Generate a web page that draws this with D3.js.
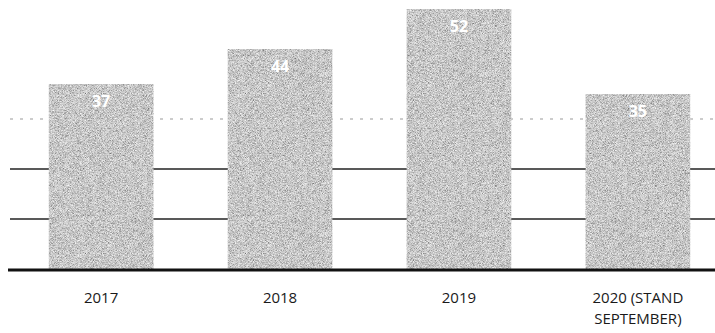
<!DOCTYPE html>
<html>
<head>
<meta charset="utf-8">
<script src="https://cdn.jsdelivr.net/npm/d3@7"></script>
<style>
  html, body { margin: 0; padding: 0; background: #fff; }
  svg { display: block; }
</style>
</head>
<body>
<svg id="chart" width="715" height="333"></svg>
<script>
// Yearly counts
const categories = ["2017", "2018", "2019", "2020 (STAND SEPTEMBER)"];
const categoryLines = [["2017"], ["2018"], ["2019"], ["2020 (STAND", "SEPTEMBER)"]];
const values = [37, 44, 52, 35];
const gridValues = [10, 20, 30];

const svg = d3.select("#chart");
const W = 715, H = 333;
const margin = { left: 13, right: -11, top: 9, bottom: 64 };

const x = d3.scaleBand()
  .domain(categories)
  .range([margin.left, W - margin.right])
  .paddingInner(0.415)
  .paddingOuter(0.2);

const y = d3.scaleLinear()
  .domain([0, 52])
  .range([H - margin.bottom, margin.top]);

// fine grainy gray fill for the bars
const defs = svg.append("defs");
const f = defs.append("filter").attr("id", "grain")
  .attr("x", 0).attr("y", 0).attr("width", 1).attr("height", 1);
f.append("feTurbulence").attr("type", "fractalNoise")
  .attr("baseFrequency", 1.6).attr("numOctaves", 1).attr("seed", 7).attr("result", "n");
f.append("feColorMatrix").attr("in", "n").attr("type", "matrix")
  .attr("values", "1 0 0 0 0  1 0 0 0 0  1 0 0 0 0  0 0 0 0 1").attr("result", "g");
const ct = f.append("feComponentTransfer").attr("in", "g").attr("result", "m");
["feFuncR", "feFuncG", "feFuncB"].forEach(k =>
  ct.append(k).attr("type", "linear").attr("slope", 1.2).attr("intercept", -0.03));
f.append("feComposite").attr("in", "m").attr("in2", "SourceGraphic").attr("operator", "in");

// horizontal gridlines
const grid = svg.append("g").attr("class", "grid");
grid.selectAll("line")
  .data(gridValues)
  .join("line")
  .attr("x1", 10)
  .attr("x2", W)
  .attr("y1", d => y(d))
  .attr("y2", d => y(d))
  .attr("stroke", d => d >= 30 ? "#999" : "#222")
  .attr("stroke-width", d => d >= 30 ? 1 : 1.6)
  .attr("stroke-dasharray", d => d >= 30 ? "3,7" : null);

// bars
svg.append("g").selectAll("rect")
  .data(values)
  .join("rect")
  .attr("x", (d, i) => x(categories[i]))
  .attr("y", d => y(d))
  .attr("width", x.bandwidth())
  .attr("height", d => y(0) - y(d))
  .attr("fill", "#9e9e9e")
  .attr("filter", "url(#grain)");

// value labels
svg.append("g").selectAll("text")
  .data(values)
  .join("text")
  .attr("x", (d, i) => x(categories[i]) + x.bandwidth() / 2)
  .attr("y", d => y(d) + 23)
  .attr("text-anchor", "middle")
  .attr("font-family", "'Open Sans', sans-serif")
  .attr("font-weight", "bold")
  .attr("font-size", 16)
  .attr("fill", "#fff")
  .text(d => d);

// baseline
svg.append("line")
  .attr("x1", 8).attr("x2", W)
  .attr("y1", y(0) + 1).attr("y2", y(0) + 1)
  .attr("stroke", "#111").attr("stroke-width", 3);

// category axis labels
const xl = svg.append("g").selectAll("text")
  .data(categories)
  .join("text")
  .attr("x", d => x(d) + x.bandwidth() / 2)
  .attr("y", 303)
  .attr("text-anchor", "middle")
  .attr("font-family", "'Open Sans', sans-serif")
  .attr("font-size", 15)
  .attr("fill", "#1a1a1a");
xl.selectAll("tspan")
  .data((d, i) => categoryLines[i])
  .join("tspan")
  .attr("x", function () { return d3.select(this.parentNode).attr("x"); })
  .attr("dy", (d, j) => j === 0 ? 0 : 21)
  .text(d => d);
</script>
</body>
</html>
